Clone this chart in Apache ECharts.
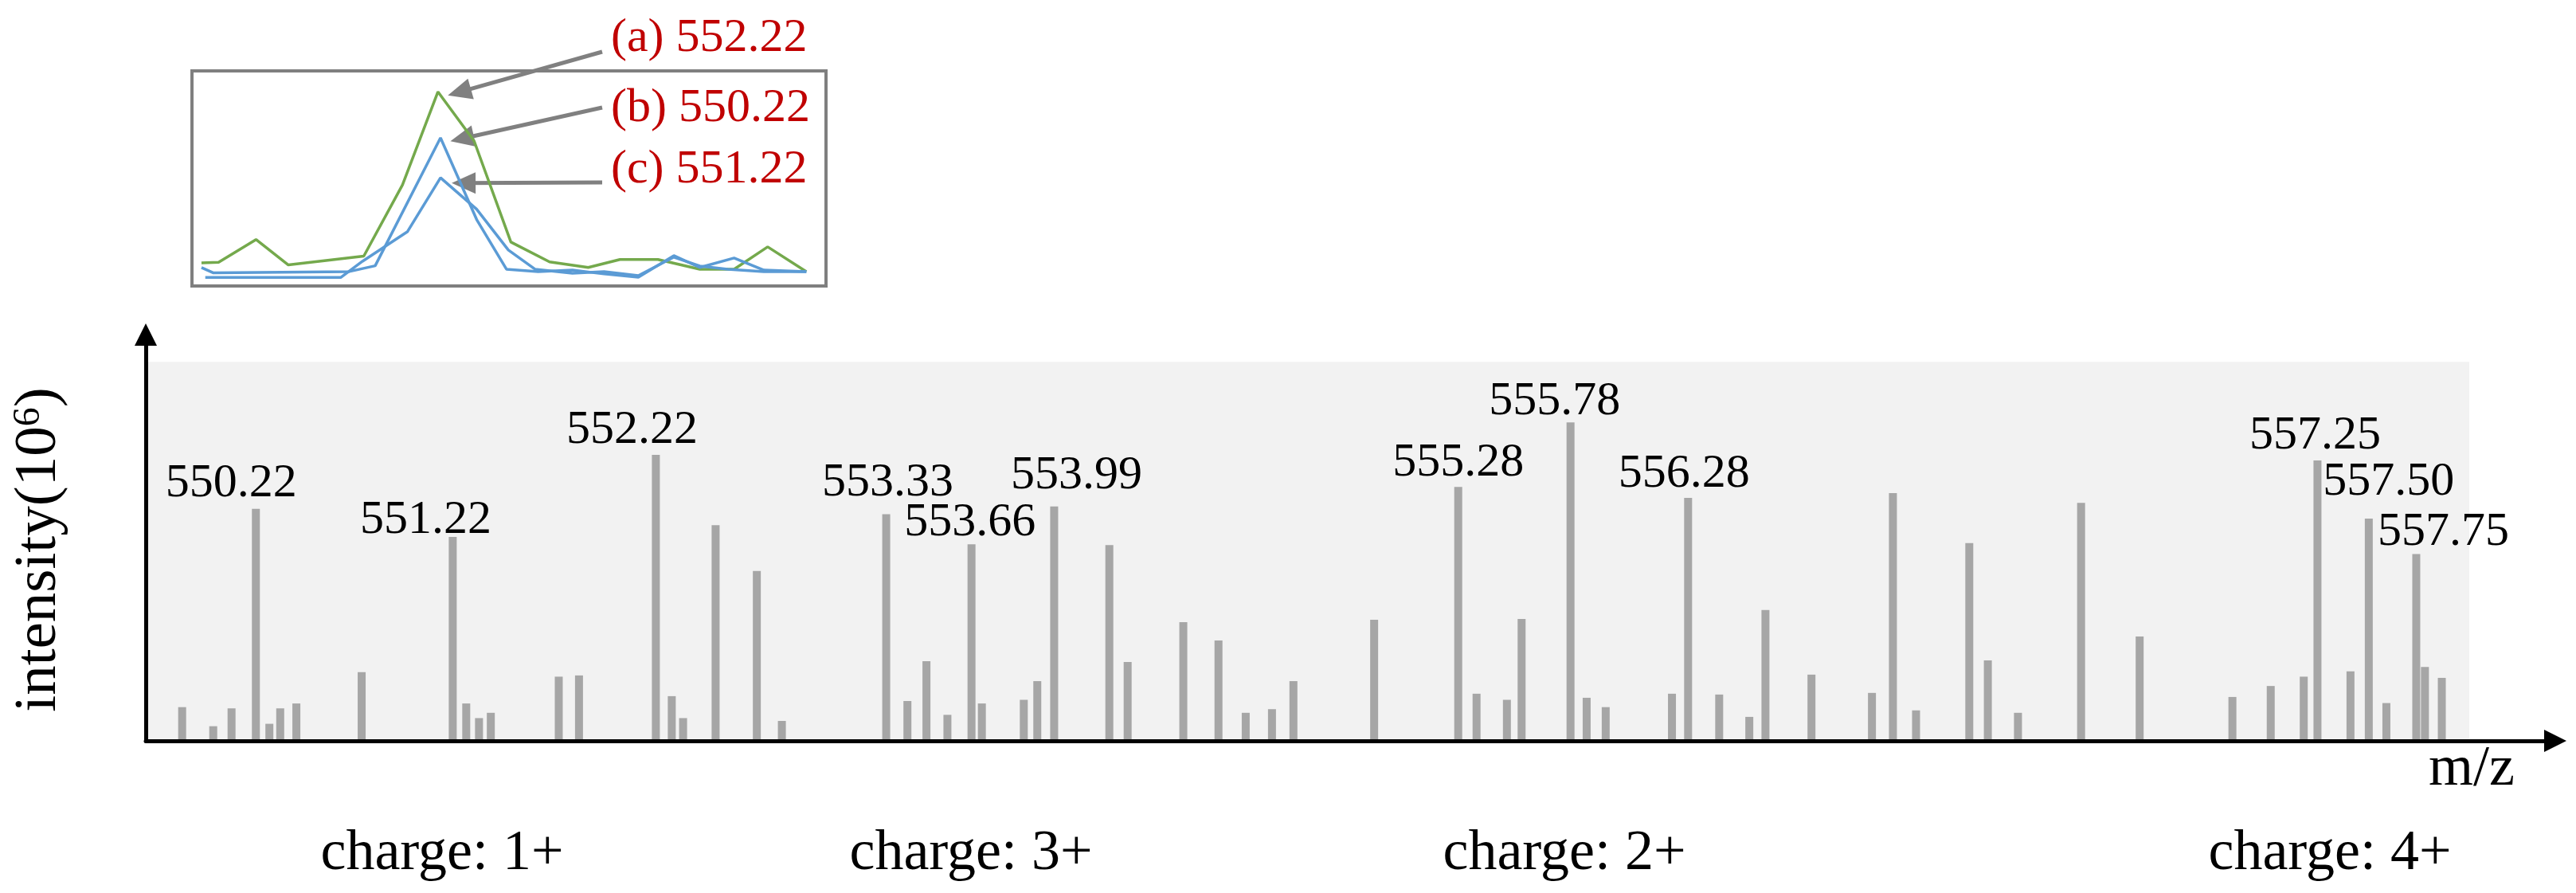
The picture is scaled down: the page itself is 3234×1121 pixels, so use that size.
<!DOCTYPE html>
<html>
<head>
<meta charset="utf-8">
<script src="https://cdn.jsdelivr.net/npm/echarts@6/dist/echarts.min.js"></script>
<style>
html,body{margin:0;padding:0;background:#ffffff;}
#chart{width:3234px;height:1121px;}
</style>
</head>
<body>
<div id="chart"></div>
<script>
// ---------- DATA ----------
// Peak positions along the schematic (not to scale) m/z axis, in % of the axis length
const peakPos = [
  1.51, 2.80, 3.56, 4.57, 5.13, 5.58, 6.25, 8.96, 12.74, 13.30, 13.83, 14.32, 17.14, 17.98, 21.17, 21.83, 22.30, 23.65, 25.36, 26.40,
  30.73, 31.61, 32.40, 33.27, 34.27, 34.70, 36.44, 37.00, 37.70, 39.99, 40.75, 43.06, 44.52, 45.65, 46.74, 47.63, 50.98,
  54.47, 55.23, 56.49, 57.10, 59.13, 59.80, 60.59, 63.34, 64.01, 65.30, 66.55, 67.22, 69.13, 71.64, 72.51, 73.47, 75.68, 76.45, 77.70,
  80.32, 82.75, 86.60, 88.19, 89.56, 90.13, 91.50, 92.26, 92.99, 94.23, 94.59, 95.29
];
// Peak intensities (10^6)
const peakIntensity = [
  0.83, 0.36, 0.80, 5.71, 0.42, 0.80, 0.92, 1.69, 5.02, 0.92, 0.56, 0.69, 1.58, 1.61, 7.04, 1.10, 0.56, 5.31, 4.18, 0.49,
  5.58, 0.98, 1.96, 0.64, 4.84, 0.92, 1.01, 1.47, 5.77, 4.82, 1.94, 2.92, 2.47, 0.69, 0.78, 1.47, 2.98,
  6.25, 1.16, 1.01, 3.00, 7.84, 1.06, 0.83, 1.16, 5.98, 1.14, 0.59, 3.22, 1.63, 1.18, 6.10, 0.75, 4.87, 1.98, 0.69,
  5.86, 2.57, 1.08, 1.35, 1.58, 6.90, 1.71, 5.47, 0.93, 4.60, 1.82, 1.55
];
// Labeled peaks (index into the arrays above) and their m/z
const labelIndex = [3, 8, 14, 20, 24, 28, 37, 41, 45, 61, 63, 65];
const labelText = ['550.22', '551.22', '552.22', '553.33', '553.66', '553.99', '555.28', '555.78', '556.28', '557.25', '557.50', '557.75'];
// Charge-state groups
const chargeText = ['charge: 1+', 'charge: 3+', 'charge: 2+', 'charge: 4+'];
// Inset: extracted ion chromatograms (scan %, relative intensity %)
const xicName = ['(a) 552.22', '(b) 550.22', '(c) 551.22'];
const xicA = [[1.5,10.7],[4.2,11.0],[10.1,21.6],[15.2,9.8],[27.1,13.9],[33.2,47.0],[38.8,90.3],[44.5,67.4],[50.3,20.4],[56.4,11.2],[62.5,8.6],[67.5,12.3],[73.5,12.3],[80.1,7.8],[85.5,7.8],[90.8,18.2],[96.9,6.7]];
const xicB = [[1.5,8.6],[3.4,6.1],[24.8,6.7],[28.9,9.4],[39.2,68.9],[44.9,30.9],[49.6,7.8],[54.6,6.7],[60.0,7.4],[65.0,5.6],[70.4,4.1],[76.0,14.1],[80.1,8.6],[85.5,13.0],[90.2,7.4],[96.9,6.7]];
const xicC = [[2.1,4.0],[23.5,4.0],[26.9,11.5],[34.0,25.3],[39.2,50.3],[44.9,35.7],[49.9,16.7],[54.1,7.8],[60.0,5.9],[65.0,6.7],[70.4,4.8],[76.0,13.4],[80.1,9.3],[84.5,7.8],[90.2,6.7],[96.9,6.7]];

// ---------- LAYOUT / STYLE ----------
const FONT = '"Liberation Serif", "Times New Roman", serif';
const labelNudge = [[-31,-2],[-34,9],[-30,-1],[2,-9],[-2,3],[28,-8],[0,0],[-20,4],[-5,0],[-3,-1],[25,-16],[34,3]];
const chargeX = [555, 1219, 1964, 2925];
const arrowStart = [[756, 65], [756, 135], [756, 229]];
const arrowTipShift = [[3.37, -0.19], [3.4, -0.37], [3.65, -2.45]];
const xicColor = ['#74a94c', '#5b9bd5', '#5b9bd5'];

const chart = echarts.init(document.getElementById('chart'), null, {renderer: 'canvas'});

const barData = peakPos.map((x, i) => {
  const item = {value: [x, peakIntensity[i]]};
  const k = labelIndex.indexOf(i);
  if (k >= 0) {
    item.label = {
      show: true,
      position: 'top',
      distance: 0,
      formatter: labelText[k],
      offset: labelNudge[k]
    };
  }
  return item;
});

function peakOf(trace) {
  return trace.reduce((m, p) => (p[1] > m[1] ? p : m));
}

const xicSeries = [xicA, xicB, xicC].map((trace, i) => {
  const pk = peakOf(trace);
  return {
    type: 'line',
    name: xicName[i],
    xAxisIndex: 1,
    yAxisIndex: 1,
    data: trace,
    showSymbol: false,
    symbol: 'none',
    clip: false,
    lineStyle: {color: xicColor[i], width: 3.5},
    itemStyle: {color: xicColor[i]},
    z: 5,
    markLine: {
      silent: true,
      symbol: ['none', 'triangle'],
      symbolSize: [27, 30],
      label: {show: false},
      lineStyle: {color: '#808080', width: 5, type: 'solid'},
      emphasis: {disabled: true},
      data: [[
        {x: arrowStart[i][0], y: arrowStart[i][1]},
        {coord: [pk[0] + arrowTipShift[i][0], pk[1] + arrowTipShift[i][1]]}
      ]]
    }
  };
});

const graphics = [];
xicName.forEach((t, i) => {
  graphics.push({
    type: 'text', x: 767, y: [48, 136, 213][i],
    style: {text: t, fontSize: 60, fontFamily: FONT, fill: '#c00000', align: 'left', verticalAlign: 'middle'},
    z: 20
  });
});
chargeText.forEach((t, i) => {
  graphics.push({
    type: 'text', x: chargeX[i], y: 1072,
    style: {text: t, fontSize: 72, fontFamily: FONT, fill: '#000000', align: 'center', verticalAlign: 'middle'},
    z: 20
  });
});
graphics.push({
  type: 'text', x: 3103, y: 966,
  style: {text: 'm/z', fontSize: 72, fontFamily: FONT, fill: '#000000', align: 'center', verticalAlign: 'middle'},
  z: 20
});

const option = {
  animation: false,
  backgroundColor: '#ffffff',
  textStyle: {fontFamily: FONT},
  grid: [
    {left: 183, right: 26, top: 420, bottom: 191, containLabel: false},
    {left: 241, top: 89, width: 796, height: 270, show: true, backgroundColor: '#ffffff',
     borderColor: '#7f7f7f', borderWidth: 4, z: 1}
  ],
  xAxis: [
    {
      type: 'value', gridIndex: 0, min: 0, max: 100, z: 10,
      axisLine: {show: true, onZero: false, symbol: ['none', 'triangle'], symbolSize: [28, 28],
                 lineStyle: {color: '#000000', width: 5}},
      axisTick: {show: false}, axisLabel: {show: false}, splitLine: {show: false}
    },
    {type: 'value', gridIndex: 1, min: 0, max: 100, show: false, splitLine: {show: false}}
  ],
  yAxis: [
    {
      type: 'value', gridIndex: 0, min: 0, max: 10, z: 10,
      name: 'intensity(10{sup|6})',
      nameLocation: 'middle',
      nameRotate: 90,
      nameGap: 96,
      nameTextStyle: {
        fontFamily: FONT, fontSize: 75, color: '#000000', lineHeight: 75, padding: [0, 30, 0, 0],
        rich: {sup: {fontFamily: FONT, fontSize: 48, lineHeight: 28, verticalAlign: 'top', color: '#000000'}}
      },
      axisLine: {show: true, onZero: false, symbol: ['none', 'triangle'], symbolSize: [28, 28],
                 lineStyle: {color: '#000000', width: 5}},
      axisTick: {show: false}, axisLabel: {show: false}, splitLine: {show: false}
    },
    {type: 'value', gridIndex: 1, min: 0, max: 100, show: false, splitLine: {show: false}}
  ],
  series: [
    {
      type: 'bar',
      name: 'intensity',
      xAxisIndex: 0,
      yAxisIndex: 0,
      data: barData,
      barWidth: 10,
      itemStyle: {color: '#a6a6a6'},
      label: {show: false, fontFamily: FONT, fontSize: 60, lineHeight: 60, color: '#000000'},
      emphasis: {disabled: true},
      markArea: {
        silent: true,
        itemStyle: {color: '#f2f2f2'},
        data: [[{coord: [0, 0]}, {coord: [96.43, 9.33]}]]
      },
      z: 2
    }
  ].concat(xicSeries),
  graphic: graphics
};

chart.setOption(option);
</script>
</body>
</html>
